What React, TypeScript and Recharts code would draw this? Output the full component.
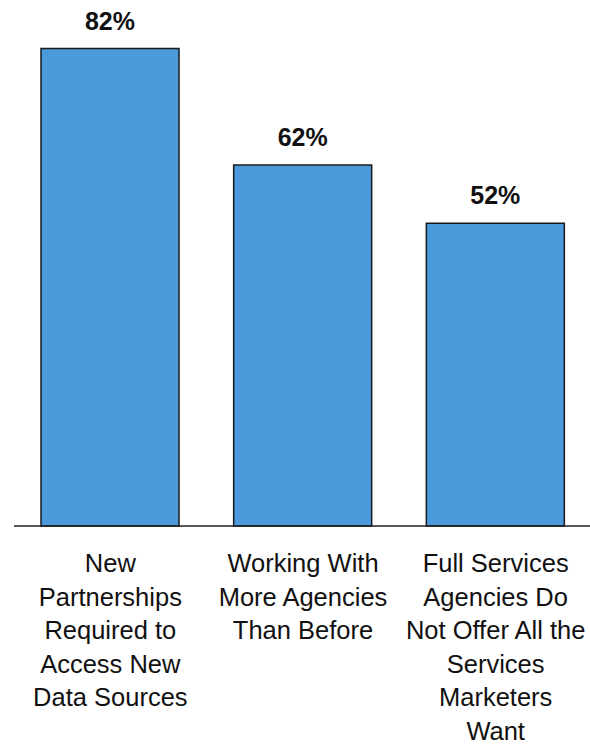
import React from "react";
import { BarChart, Bar, XAxis, YAxis, LabelList } from "recharts";

const categories = [
  "New Partnerships Required to Access New Data Sources",
  "Working With More Agencies Than Before",
  "Full Services Agencies Do Not Offer All the Services Marketers Want",
];
const values = [82, 62, 52];
const tickLines = [
  ["New", "Partnerships", "Required to", "Access New", "Data Sources"],
  ["Working With", "More Agencies", "Than Before"],
  ["Full Services", "Agencies Do", "Not Offer All the", "Services", "Marketers", "Want"],
];

const data = categories.map((c, i) => ({ name: c, value: values[i], lines: tickLines[i] }));

const FONT = "'Liberation Sans', Arial, sans-serif";

const Tick = (props: any) => {
  const { x, y, payload } = props;
  const idx = categories.indexOf(payload.value);
  const lines = idx >= 0 ? tickLines[idx] : [String(payload.value)];
  return (
    <text x={x} y={y} textAnchor="middle" fontFamily={FONT} fontSize={25.5} fill="#111">
      {lines.map((l, i) => (
        <tspan key={i} x={x} y={y + 46 + i * 33.6}>
          {l}
        </tspan>
      ))}
    </text>
  );
};

const ValueLabel = (props: any) => {
  const { x, y, width, value } = props;
  return (
    <text
      x={x + width / 2}
      y={y - 19}
      textAnchor="middle"
      fontFamily={FONT}
      fontSize={25}
      fontWeight="bold"
      fill="#111"
    >
      {value}%
    </text>
  );
};

export default function App() {
  return (
    <div style={{ position: "absolute", left: 0, top: 0, width: 590, height: 745, background: "#fff" }}>
      <BarChart
        width={590}
        height={745}
        data={data}
        margin={{ top: 2, right: -2, bottom: 0, left: 14 }}
      >
        <XAxis
          dataKey="name"
          axisLine={{ stroke: "#222", strokeWidth: 1.5 }}
          tickLine={false}
          tickSize={0}
          tickMargin={0}
          height={219}
          interval={0}
          tick={<Tick />}
        />
        <YAxis hide domain={[0, 90]} />
        <Bar
          dataKey="value"
          fill="#4A9ADC"
          stroke="#1a1a1a"
          strokeWidth={1.5}
          barSize={138}
          isAnimationActive={false}
        >
          <LabelList dataKey="value" content={<ValueLabel />} />
        </Bar>
      </BarChart>
    </div>
  );
}
